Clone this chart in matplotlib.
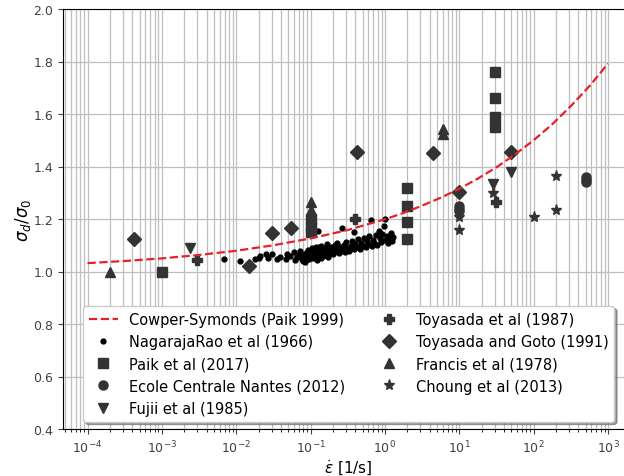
import matplotlib
matplotlib.use("Agg")
import matplotlib.pyplot as plt

# Cowper-Symonds curve, values
cs_rate = [1e-4, 10**-3.5, 1e-3, 10**-2.5, 1e-2, 10**-1.5, 1e-1, 10**-0.5, 1.0,
           10**0.25, 10**0.5, 10**0.75, 10.0, 10**1.25, 10**1.5, 10**1.75, 100.0,
           10**2.25, 10**2.5, 10**2.75, 1000.0]
cs_ratio = [1.032, 1.040, 1.050, 1.063, 1.079, 1.100, 1.126, 1.158, 1.199,
            1.223, 1.251, 1.281, 1.315, 1.354, 1.397, 1.446, 1.500,
            1.561, 1.630, 1.706, 1.792]

# NagarajaRao et al (1966)
nag_rate = [0.0068, 0.0114, 0.018, 0.02, 0.021, 0.025, 0.027, 0.03, 0.035, 0.039,
            0.046, 0.048, 0.053, 0.059, 0.062, 0.066, 0.07, 0.073, 0.077, 0.08,
            0.08, 0.085, 0.088, 0.09, 0.093, 0.095, 0.098, 0.1, 0.1, 0.102,
            0.105, 0.108, 0.11, 0.112, 0.115, 0.118, 0.12, 0.122, 0.125, 0.126,
            0.13, 0.135, 0.14, 0.145, 0.15, 0.155, 0.16, 0.165, 0.17, 0.18,
            0.185, 0.19, 0.2, 0.21, 0.22, 0.23, 0.24, 0.25, 0.265, 0.27,
            0.28, 0.29, 0.3, 0.32, 0.33, 0.35, 0.36, 0.38, 0.38, 0.4,
            0.42, 0.44, 0.46, 0.48, 0.5, 0.52, 0.55, 0.58, 0.6, 0.62,
            0.64, 0.66, 0.7, 0.72, 0.75, 0.78, 0.82, 0.85, 0.88, 0.9,
            0.96, 1.0, 1.0, 1.05, 1.1, 1.15, 1.2, 1.25, 1.3, 0.14,
            0.17, 0.11, 0.095, 0.13, 0.21, 0.26]
nag_ratio = [1.048, 1.041, 1.048, 1.052, 1.060, 1.066, 1.050, 1.068, 1.047, 1.055,
             1.049, 1.066, 1.058, 1.073, 1.044, 1.054, 1.062, 1.079, 1.048, 1.063,
             1.040, 1.037, 1.071, 1.055, 1.082, 1.046, 1.066, 1.075, 1.058, 1.064,
             1.088, 1.050, 1.068, 1.079, 1.060, 1.094, 1.072, 1.045, 1.053, 1.153,
             1.083, 1.066, 1.098, 1.058, 1.078, 1.089, 1.069, 1.103, 1.061, 1.084,
             1.074, 1.093, 1.066, 1.088, 1.079, 1.108, 1.070, 1.094, 1.165, 1.083,
             1.101, 1.075, 1.112, 1.089, 1.079, 1.099, 1.118, 1.149, 1.086, 1.105,
             1.094, 1.122, 1.084, 1.110, 1.098, 1.128, 1.092, 1.116, 1.104, 1.134,
             1.195, 1.098, 1.121, 1.110, 1.138, 1.102, 1.155, 1.126, 1.114, 1.142,
             1.175, 1.120, 1.200, 1.135, 1.108, 1.128, 1.145, 1.118, 1.132, 1.052,
             1.057, 1.085, 1.073, 1.092, 1.100, 1.078]

paik_rate = [1e-3, 0.1, 0.1, 0.1, 2.0, 2.0, 2.0, 2.0, 30.0, 30.0, 30.0, 30.0]
paik_ratio = [1.00, 1.20, 1.17, 1.15, 1.32, 1.25, 1.19, 1.125, 1.76, 1.66, 1.59, 1.55]

ecn_rate = [10.0, 10.0, 10.0, 500.0, 500.0, 500.0]
ecn_ratio = [1.25, 1.24, 1.23, 1.36, 1.35, 1.34]

fujii_rate = [2.4e-3, 28.0, 50.0]
fujii_ratio = [1.088, 1.335, 1.38]

toy87_rate = [3e-3, 0.4, 31.0]
toy87_ratio = [1.044, 1.20, 1.265]

toy91_rate = [4.2e-4, 0.015, 0.03, 0.055, 0.42, 4.4, 10.0, 50.0]
toy91_ratio = [1.124, 1.020, 1.147, 1.165, 1.454, 1.451, 1.302, 1.454]

francis_rate = [2e-4, 0.1, 0.1, 6.0, 6.0]
francis_ratio = [1.00, 1.265, 1.235, 1.543, 1.524]

choung_rate = [10.0, 10.0, 28.0, 100.0, 200.0, 200.0]
choung_ratio = [1.206, 1.159, 1.30, 1.206, 1.365, 1.234]

x_ticks = [1e-4, 1e-3, 1e-2, 1e-1, 1e0, 1e1, 1e2, 1e3]
y_ticks = [0.4, 0.6, 0.8, 1.0, 1.2, 1.4, 1.6, 1.8, 2.0]

fig = plt.figure(figsize=(6.24, 4.77), dpi=100)
ax = fig.add_axes([63 / 624, 47 / 477, (634 - 63) / 624, 420 / 477])

mc = "0.2"
ax.plot(cs_rate, cs_ratio, "--", color="#e8202a", lw=1.6, label="Cowper-Symonds (Paik 1999)", zorder=3)
ax.plot(nag_rate, nag_ratio, ".", color="k", ms=7, label="NagarajaRao et al (1966)")
ax.plot(paik_rate, paik_ratio, "s", color=mc, ms=6.5, label="Paik et al (2017)")
ax.plot(ecn_rate, ecn_ratio, "o", color=mc, ms=6.5, label="Ecole Centrale Nantes (2012)")
ax.plot(fujii_rate, fujii_ratio, "v", color=mc, ms=7, label="Fujii et al (1985)")
ax.plot(toy87_rate, toy87_ratio, "P", color=mc, ms=7.5, label="Toyasada et al (1987)")
ax.plot(toy91_rate, toy91_ratio, "D", color=mc, ms=7, label="Toyasada and Goto (1991)")
ax.plot(francis_rate, francis_ratio, "^", color=mc, ms=7, label="Francis et al (1978)")
ax.plot(choung_rate, choung_ratio, "*", color=mc, ms=8, label="Choung et al (2013)")

ax.set_xscale("log")
ax.set_xticks(x_ticks)
ax.set_xlim(10**-4.33, 10**3.35)
ax.set_ylim(0.4, 2.0)
ax.set_yticks(y_ticks)
ax.grid(True, which="both", axis="x", color="0.75", lw=0.9)
ax.grid(True, which="major", axis="y", color="0.75", lw=0.9)
ax.set_axisbelow(True)
ax.tick_params(labelsize=9, colors="0.25")

ax.set_xlabel(r"$\dot{\varepsilon}$ [1/s]", fontsize=11, labelpad=2)
ax.set_ylabel(r"$\sigma_d/\sigma_0$", fontsize=12, labelpad=0)

ax.legend(loc="lower center", ncol=2, fontsize=10.5, shadow=True, framealpha=1,
          columnspacing=2.0, handletextpad=0.8)

fig.savefig("out.png", dpi=100)
